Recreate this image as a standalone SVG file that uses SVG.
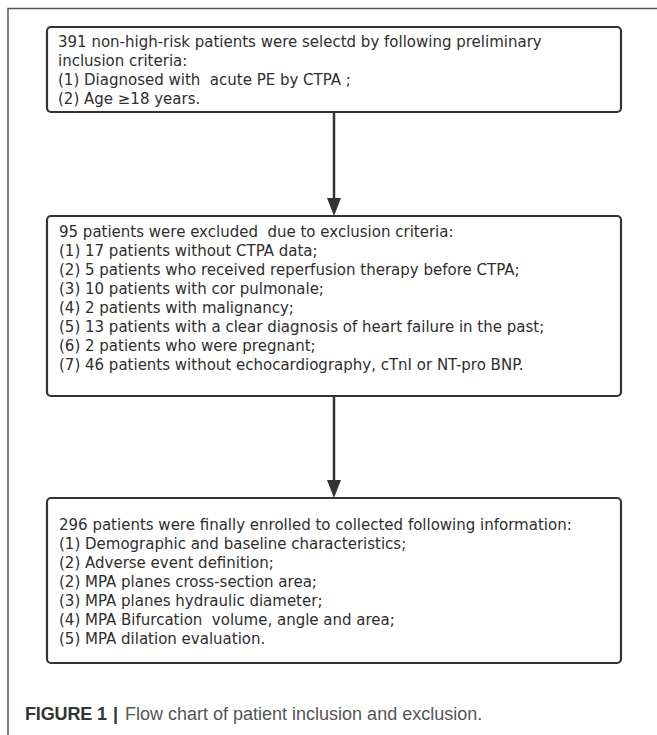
<svg xmlns="http://www.w3.org/2000/svg" width="657" height="735" viewBox="0 0 657 735">
<style>
.box{fill:#fff;stroke:#333;stroke-width:2.2}
.t{font-family:"DejaVu Sans","Noto Sans",sans-serif;font-size:15px;fill:#2e2e2e}
.frame{stroke:#555;stroke-width:1.5;fill:none}
.conn{stroke:#333;stroke-width:2.5;fill:none}
.head{fill:#333}
.cap{font-family:"Liberation Sans",Arial,sans-serif;font-size:18px}
</style>
<rect width="657" height="735" fill="#fff"/>
<g id="frame">
<path class="frame" d="M8,735 L8,8.5 L657,8.5"/>
</g>
<g id="connectors">
<line class="conn" x1="334" y1="113" x2="334" y2="198"/>
<path class="head" d="M327,198 L341,198 L334,216 Z"/>
<line class="conn" x1="334" y1="397" x2="334" y2="480"/>
<path class="head" d="M327,480 L341,480 L334,498 Z"/>
</g>
<g id="node1">
<rect class="box" x="47" y="27" width="574" height="85" rx="4"/>
<text class="t" x="58" y="47">391 non-high-risk patients were selectd by following preliminary</text>
<text class="t" x="58" y="66">inclusion criteria:</text>
<text class="t" x="58" y="85" xml:space="preserve">(1) Diagnosed with  acute PE by CTPA ;</text>
<text class="t" x="58" y="104">(2) Age ≥18 years.</text>
</g>
<g id="node2">
<rect class="box" x="47" y="216" width="574" height="180" rx="4"/>
<text class="t" x="59" y="237" xml:space="preserve">95 patients were excluded  due to exclusion criteria:</text>
<text class="t" x="59" y="256">(1) 17 patients without CTPA data;</text>
<text class="t" x="59" y="275">(2) 5 patients who received reperfusion therapy before CTPA;</text>
<text class="t" x="59" y="294">(3) 10 patients with cor pulmonale;</text>
<text class="t" x="59" y="313">(4) 2 patients with malignancy;</text>
<text class="t" x="59" y="332">(5) 13 patients with a clear diagnosis of heart failure in the past;</text>
<text class="t" x="59" y="351">(6) 2 patients who were pregnant;</text>
<text class="t" x="59" y="370">(7) 46 patients without echocardiography, cTnI or NT-pro BNP.</text>
</g>
<g id="node3">
<rect class="box" x="47" y="498" width="574" height="165" rx="4"/>
<text class="t" x="59" y="530">296 patients were finally enrolled to collected following information:</text>
<text class="t" x="59" y="549">(1) Demographic and baseline characteristics;</text>
<text class="t" x="59" y="568">(2) Adverse event definition;</text>
<text class="t" x="59" y="587">(2) MPA planes cross-section area;</text>
<text class="t" x="59" y="606">(3) MPA planes hydraulic diameter;</text>
<text class="t" x="59" y="625" xml:space="preserve">(4) MPA Bifurcation  volume, angle and area;</text>
<text class="t" x="59" y="644">(5) MPA dilation evaluation.</text>
</g>
<g id="caption">
<text class="cap" x="25" y="720" font-weight="bold" fill="#333" textLength="82" lengthAdjust="spacing">FIGURE 1</text>
<text class="cap" x="113" y="720" font-weight="bold" fill="#333">|</text>
<text class="cap" x="125" y="720" fill="#555">Flow chart of patient inclusion and exclusion.</text>
</g>
</svg>
